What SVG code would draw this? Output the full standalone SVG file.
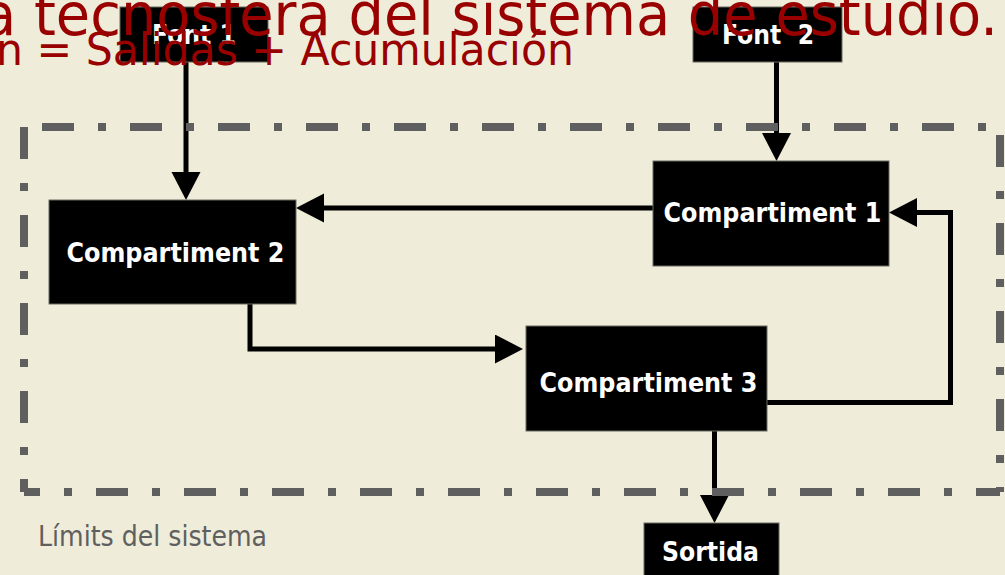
<svg xmlns="http://www.w3.org/2000/svg" width="1005" height="575" viewBox="0 0 1005 575">
<defs>
<style>
.box{fill:#000;stroke:#6b6b60;stroke-width:1}
.lbl{font-family:"DejaVu Sans","Liberation Sans",sans-serif;font-weight:bold;font-size:26px;fill:#fff;text-anchor:middle}
.con{fill:none;stroke:#000;stroke-width:5;stroke-linejoin:miter}
.bnd{fill:none;stroke:#5f5f5f;stroke-width:8;stroke-dasharray:32 24 8 24}
.title{font-family:"DejaVu Sans","Liberation Sans",sans-serif;fill:#990000}
</style>
<marker id="ah" markerUnits="userSpaceOnUse" markerWidth="30" markerHeight="30" refX="0" refY="14.5" orient="auto">
<path d="M0,0 L28,14.5 L0,29 Z" fill="#000"/>
</marker>
</defs>
<rect width="1005" height="575" fill="#efecda"/>
<g id="connectors">
<path class="con" d="M186,62 V172" marker-end="url(#ah)"/>
<path class="con" d="M776.5,62 V133" marker-end="url(#ah)"/>
<path class="con" d="M653,208 H324" marker-end="url(#ah)"/>
<path class="con" d="M250,304 V349 H495" marker-end="url(#ah)"/>
<path class="con" d="M767,402.5 H950.5 V212.5 H917" marker-end="url(#ah)"/>
<path class="con" d="M714.5,431 V495" marker-end="url(#ah)"/>
</g>
<g id="font1">
<rect class="box" x="120" y="7" width="148" height="55"/>
<text class="lbl" x="194" y="44" textLength="84" lengthAdjust="spacingAndGlyphs">Font 1</text>
</g>
<g id="font2">
<rect class="box" x="693" y="7" width="149" height="55"/>
<text class="lbl" x="768" y="44" xml:space="preserve" textLength="92" lengthAdjust="spacingAndGlyphs">Font  2</text>
</g>
<g id="compartiment2">
<rect class="box" x="49" y="200" width="247" height="104"/>
<text class="lbl" x="175.5" y="262" textLength="218" lengthAdjust="spacingAndGlyphs">Compartiment 2</text>
</g>
<g id="compartiment1">
<rect class="box" x="653" y="161" width="236" height="105"/>
<text class="lbl" x="772.5" y="222" textLength="218" lengthAdjust="spacingAndGlyphs">Compartiment 1</text>
</g>
<g id="compartiment3">
<rect class="box" x="526" y="326" width="241" height="105"/>
<text class="lbl" x="648.5" y="392" textLength="218" lengthAdjust="spacingAndGlyphs">Compartiment 3</text>
</g>
<g id="sortida">
<rect class="box" x="644" y="523" width="135" height="60"/>
<text class="lbl" x="710.5" y="561" textLength="97" lengthAdjust="spacingAndGlyphs">Sortida</text>
</g>
<g id="limits">
<path class="bnd" d="M24,127 H1000" stroke-dashoffset="70"/>
<path class="bnd" d="M24,127 V492" stroke-dashoffset="0"/>
<path class="bnd" d="M24,492 H1000" stroke-dashoffset="16"/>
<path class="bnd" d="M1000,127 V492" stroke-dashoffset="80"/>
<text x="38" y="546" font-family="DejaVu Sans, Liberation Sans, sans-serif" font-size="28" fill="#5f5f5f" textLength="229" lengthAdjust="spacingAndGlyphs">Límits del sistema</text>
</g>
<g id="title">
<text class="title" x="-18" y="35" font-size="58" textLength="1016" lengthAdjust="spacingAndGlyphs">a tecnosfera del sistema de estudio.</text>
<text class="title" x="-4" y="65" font-size="45" textLength="578" lengthAdjust="spacingAndGlyphs">n = Salidas + Acumulación</text>
</g>
</svg>
